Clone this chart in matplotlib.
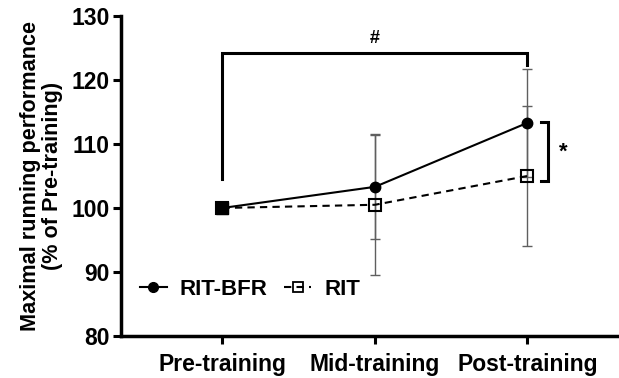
import matplotlib.pyplot as plt
from matplotlib.lines import Line2D

# ---- data ----------------------------------------------------------
phases = ["Pre-training", "Mid-training", "Post-training"]
bfr_mean = [100.0, 103.3, 113.3]
bfr_sd = [0.0, 8.1, 8.4]
rit_mean = [100.0, 100.5, 105.0]
rit_sd = [0.0, 11.0, 11.0]

hash_bracket = (124.2, 104.5, 122.3)   # top, left drop, right drop
star_bracket = (113.5, 104.2)          # upper, lower

plt.rcParams["font.family"] = ["Liberation Sans", "DejaVu Sans"]
plt.rcParams["font.weight"] = "bold"

fig = plt.figure(figsize=(6.19, 3.78), dpi=100)
ax = fig.add_axes([0.1955, 0.111, 0.8045, 0.847])

x = list(range(len(phases)))
ebar_col = "#5f5f5f"

ax.errorbar(x, bfr_mean, yerr=bfr_sd, fmt="none", ecolor=ebar_col,
            elinewidth=1.0, capsize=3.6, capthick=1.0, zorder=2)
ax.errorbar(x, rit_mean, yerr=rit_sd, fmt="none", ecolor=ebar_col,
            elinewidth=1.0, capsize=3.6, capthick=1.0, zorder=2)

ax.plot(x, rit_mean, color="black", lw=1.5, ls=(0, (3.5, 2.5)),
        marker="s", ms=8.5, mfc="none", mec="black", mew=1.5, zorder=3)
ax.plot(x, bfr_mean, color="black", lw=1.5, marker="o", ms=7.5,
        mfc="black", mec="black", zorder=4)
# at baseline both groups coincide -> solid square
ax.plot(x[0], rit_mean[0], marker="s", ms=8.5, mfc="black", mec="black",
        ls="none", zorder=5)

# significance brackets
top, ldrop, rdrop = hash_bracket
ax.plot([0, 0, 2, 2], [ldrop, top, top, rdrop], color="black", lw=2.2,
        solid_joinstyle="miter", zorder=5)
ax.text(1, top + 1.0, "#", ha="center", va="bottom", fontsize=13,
        fontweight="bold")

up, lo = star_bracket
bx = 2.135
ax.plot([bx - 0.045, bx, bx, bx - 0.045], [up, up, lo, lo], color="black",
        lw=2.2, solid_joinstyle="miter", clip_on=False, zorder=5)
ax.text(bx + 0.1, (up + lo) / 2 - 0.2, "*", ha="center", va="center",
        fontsize=16)

# axes styling
ax.set_xlim(-0.665, 2.6)
ax.set_ylim(80, 130)
ax.set_yticks([80, 90, 100, 110, 120, 130])
ax.set_xticks(x)
ax.set_xticklabels(phases)
for s in ["top", "right"]:
    ax.spines[s].set_visible(False)
for s in ["left", "bottom"]:
    ax.spines[s].set_linewidth(2.5)
ax.tick_params(axis="both", width=2.2, length=5.5, labelsize=16.5)
ax.tick_params(axis="y", pad=2.5)
ax.tick_params(axis="x", pad=6.5)
for lab in ax.get_xticklabels() + ax.get_yticklabels():
    lab.set_fontweight("bold")

ax.set_ylabel("Maximal running performance\n(% of Pre-training)",
              fontsize=15.6, fontweight="bold", linespacing=1.05, labelpad=6)

handles = [
    Line2D([0], [0], color="black", lw=1.5, marker="o", ms=7, mfc="black"),
    Line2D([0], [0], color="black", lw=1.5, ls=(0, (3.5, 2.5)), marker="s",
           ms=7, mfc="none", mew=1.3),
]
leg = ax.legend(handles, ["RIT-BFR", "RIT"], loc="lower left", ncol=2,
                frameon=False, fontsize=16, handlelength=1.2,
                handletextpad=0.6, columnspacing=0.75,
                bbox_to_anchor=(0.02, 0.085), borderaxespad=0)
for t in leg.get_texts():
    t.set_fontweight("bold")

fig.savefig("out.png", dpi=100)
